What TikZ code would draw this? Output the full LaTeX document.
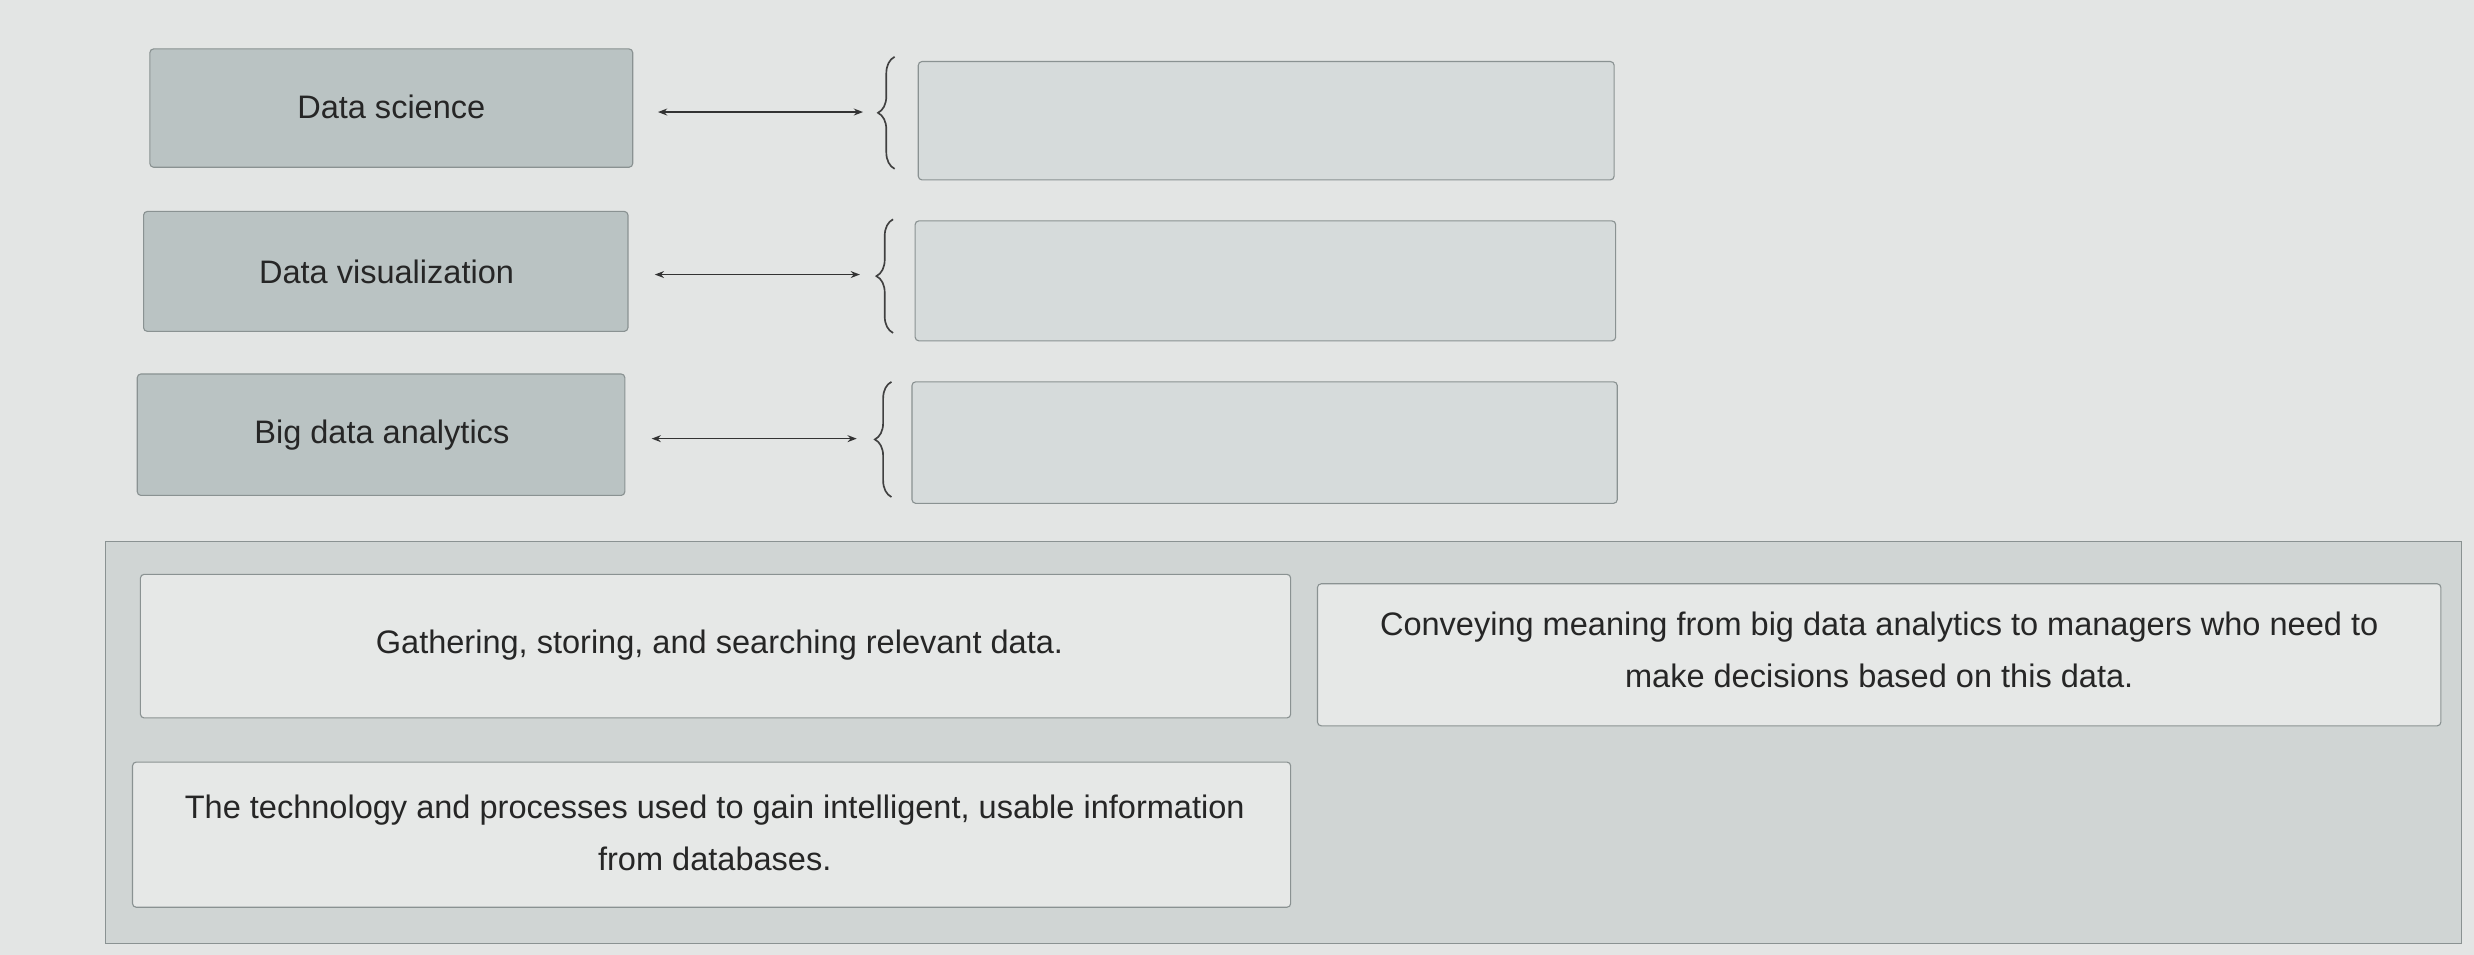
\documentclass[tikz,border=0pt]{standalone}
\usepackage{fontspec}
\setmainfont{Liberation Sans}
\usetikzlibrary{decorations.pathreplacing,arrows.meta}
\definecolor{bg}{HTML}{E3E5E4}
\definecolor{termfill}{HTML}{BAC3C3}
\definecolor{slotfill}{HTML}{D6DBDB}
\definecolor{panelfill}{HTML}{D0D5D4}
\definecolor{cardfill}{HTML}{E6E8E7}
\definecolor{edge}{HTML}{8A9292}
\begin{document}
\begin{tikzpicture}[x=0.03cm,y=-0.03cm,
  term/.style={draw=edge,fill=termfill,rounded corners=2pt,line width=0.6pt},
  slot/.style={draw=edge,fill=slotfill,rounded corners=2pt,line width=0.6pt},
  card/.style={draw=edge,fill=cardfill,rounded corners=2pt,line width=0.6pt},
  lbl/.style={font=\fontsize{17.6}{28}\selectfont,align=center,text=black!85},
  conn/.style={{Stealth[length=5pt]}-{Stealth[length=5pt]},line width=0.8pt,black!80},
  br/.style={decorate,decoration={brace,amplitude=9pt},line width=0.9pt,black!75}]
\useasboundingbox[fill=bg] (0,0) rectangle (1568,605);
% terms
\draw[term] (95,31) rectangle (401,106); \node[lbl] (t1) at (248,68) {Data science};
\draw[term] (91,134) rectangle (398,210); \node[lbl] (t2) at (245,172) {Data visualization};
\draw[term] (87,237) rectangle (396,314); \node[lbl] (t3) at (242,276) {Big data analytics};
% connectors
\coordinate (a1) at (417,71); \coordinate (b1) at (547,71);
\coordinate (a2) at (415,174); \coordinate (b2) at (545,174);
\coordinate (a3) at (413,278); \coordinate (b3) at (543,278);
\draw[conn] (a1) -- (b1); \draw[conn] (a2) -- (b2); \draw[conn] (a3) -- (b3);
% braces
\coordinate (c1) at (567,107); \coordinate (d1) at (567,36);
\coordinate (c2) at (566,211); \coordinate (d2) at (566,139);
\coordinate (c3) at (565,315); \coordinate (d3) at (565,242);
\draw[br] (c1) -- (d1); \draw[br] (c2) -- (d2); \draw[br] (c3) -- (d3);
% slots
\draw[slot] (582,39) rectangle (1023,114);
\draw[slot] (580,140) rectangle (1024,216);
\draw[slot] (578,242) rectangle (1025,319);
% panel
\draw[draw=edge,fill=panelfill,line width=0.6pt] (67,343) rectangle (1560,598);
\draw[card] (89,364) rectangle (818,455);
\node[lbl] (p1) at (456,409) {Gathering, storing, and searching relevant data.};
\draw[card] (835,370) rectangle (1547,460);
\node[lbl] (p2) at (1191,412) {Conveying meaning from big data analytics to managers who need to\\make decisions based on this data.};
\draw[card] (84,483) rectangle (818,575);
\node[lbl] (p3) at (453,528) {The technology and processes used to gain intelligent, usable information\\from databases.};
\end{tikzpicture}
\end{document}
